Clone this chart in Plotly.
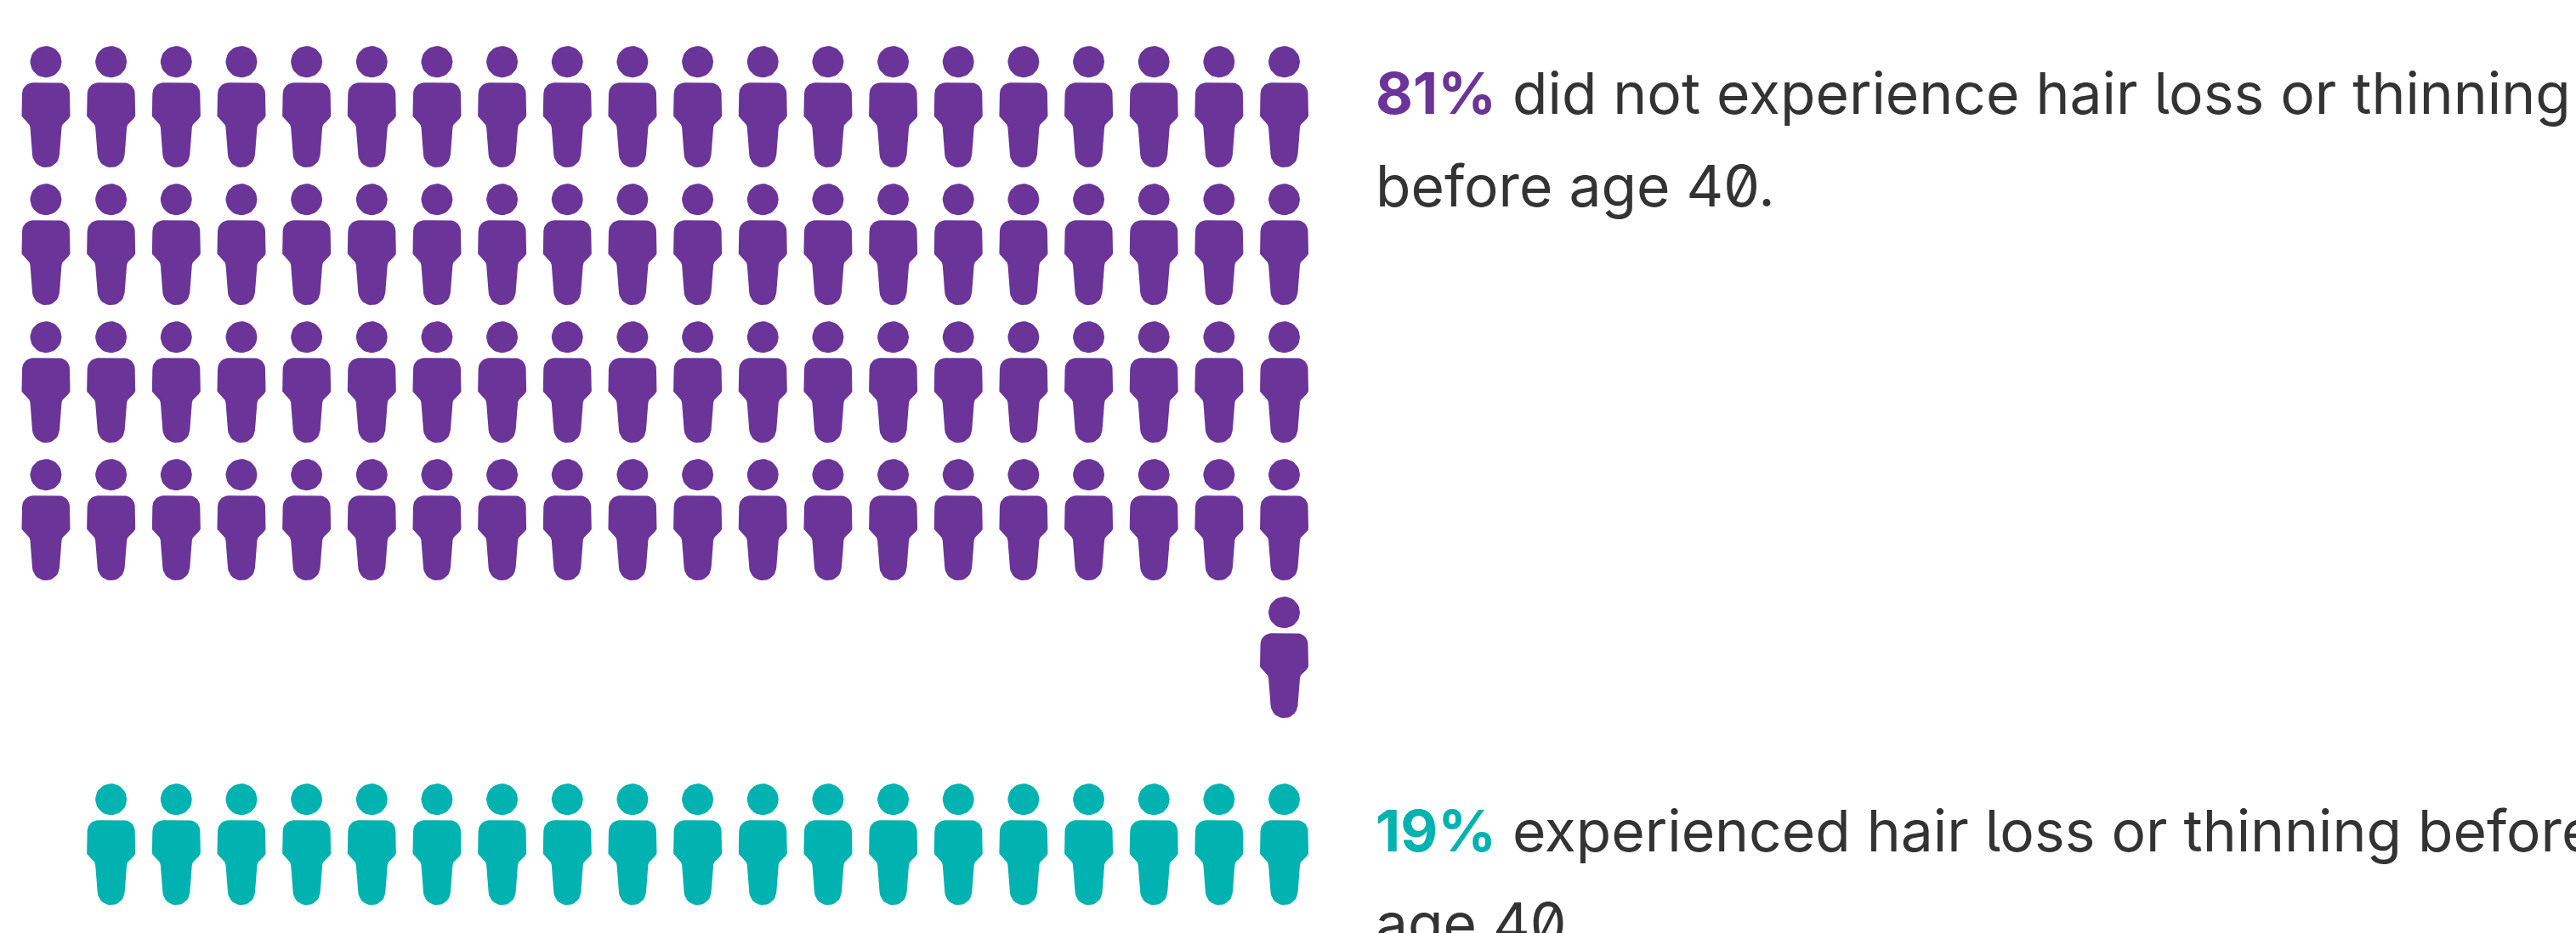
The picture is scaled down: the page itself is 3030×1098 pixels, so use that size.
import numpy as np
import plotly.graph_objects as go

# Survey shares, one pictogram figure per percentage point
shares = {"no_loss": 81, "loss": 19}
per_row = 20
colors = {"no_loss": "#6B3499", "loss": "#00B2B0"}
row_positions = {"no_loss": [0, 1, 2, 3, 4], "loss": [5.358]}
caption_lines = {
    "no_loss": [("81%", " did not experience hair loss or thinning"), ("", "before age 40.")],
    "loss": [("19%", " experienced hair loss or thinning before"), ("", "age 40.")],
}

W, H = 3030, 1098
COL_PX, ROW_PX = 76.66, 162.0
X0_PX, Y0_PX = 54.0, 72.7
# Inter's slashed zero and tailed l
FEATURES = "font-feature-settings:\"zero\",\"cv05\""


def arc(cx, cy, r, a0, a1, n=10):
    t = np.radians(np.linspace(a0, a1, n))
    return list(cx + r * np.cos(t)), list(cy + r * np.sin(t))


def figure_outline():
    """Outline of one person, in pixels around the centre of the head."""
    hx, hy = arc(0, 0, 18.5, 0, 360, 36)
    xs, ys = [], []
    for seg in [
        arc(-15, 37.5, 13, 180, 270),
        arc(15, 37.5, 13, 270, 360),
    ]:
        xs += seg[0]
        ys += seg[1]
    xs += [28.5, 26.5, 19.5, 18.5]
    ys += [64, 67, 74, 77]
    tail = arc(0, 108.5, 16, 5, 175, 16)
    xs += tail[0]
    ys += tail[1]
    xs += [-18.5, -19.5, -26.5, -28.5]
    ys += [77, 74, 67, 64]
    xs.append(xs[0])
    ys.append(ys[0])
    return (np.array(hx), np.array(hy)), (np.array(xs), np.array(ys))


head, body = figure_outline()


def cells(count, rows):
    """Fill rows from the top; an incomplete last row sits against the right edge."""
    out = []
    for r in rows:
        n = min(count, per_row)
        out += [(per_row - n + i, r) for i in range(n)]
        count -= n
        if count <= 0:
            break
    return out


fig = go.Figure()
for key, total in shares.items():
    xs, ys = [], []
    for col, row in cells(total, row_positions[key]):
        for gx, gy in (head, body):
            xs += list(col + gx / COL_PX) + [None]
            ys += list(row + gy / ROW_PX) + [None]
    fig.add_trace(go.Scatter(
        x=xs, y=ys, mode="lines", fill="toself", fillcolor=colors[key],
        line=dict(color=colors[key], width=0), hoverinfo="skip", showlegend=False,
    ))

text_y = {"no_loss": [109, 218], "loss": [977, 1086]}
for key, lines in caption_lines.items():
    for (lead, rest), y in zip(lines, text_y[key]):
        bold = f"<b style='color:{colors[key]}'>{lead}</b>" if lead else ""
        fig.add_annotation(
            xref="paper", yref="paper", x=1616 / W, y=1 - y / H,
            xanchor="left", yanchor="middle", align="left", showarrow=False,
            text=f"<span style='{FEATURES}'>{bold}{rest}</span>",
            font=dict(family="Inter", size=67.7, color="#333333"),
        )

fig.update_layout(
    width=W, height=H, margin=dict(l=0, r=0, t=0, b=0),
    paper_bgcolor="white", plot_bgcolor="white",
    xaxis=dict(visible=False, range=[-X0_PX / COL_PX, (W - X0_PX) / COL_PX]),
    yaxis=dict(visible=False, range=[(H - Y0_PX) / ROW_PX, -Y0_PX / ROW_PX]),
)
fig.write_html("out.html")
